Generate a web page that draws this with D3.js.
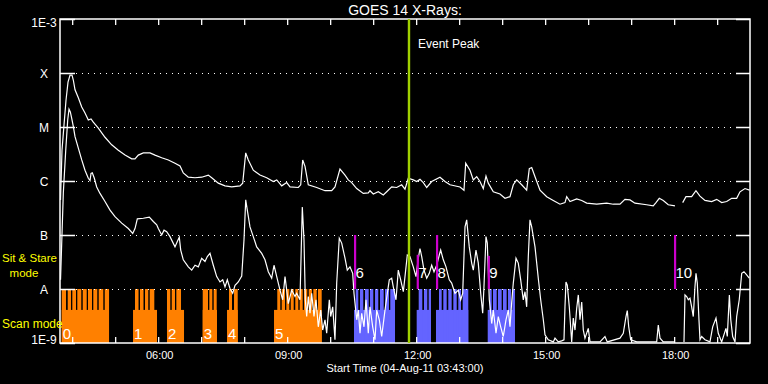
<!DOCTYPE html>
<html>
<head>
<meta charset="utf-8">
<script src="https://cdn.jsdelivr.net/npm/d3@7"></script>
<style>
  html, body { margin: 0; padding: 0; background: #000; }
  svg { display: block; }
  text { font-family: "Liberation Sans", Arial, sans-serif; fill: #fff; }
</style>
</head>
<body>
<div id="graph"></div>
<script>
// time axis: UT hours on 04-Aug-2011
var startHour = 3 + 43 / 60, endHour = 19.764;
var levelValues = [1e-3, 1e-4, 1e-5, 1e-6, 1e-7, 1e-8, 1e-9];
var levelLabels = ["1E-3", "X", "M", "C", "B", "A", "1E-9"];
var gridLevels = [1e-4, 1e-5, 1e-6, 1e-7, 1e-8];
var labelHours = [6, 9, 12, 15, 18];

// GOES 14 long (1-8 A) and short (0.5-4 A) channels: [UT hour, log10 flux]
var longChannel = [[3.729,-6.35],[3.763,-5.43],[3.810,-4.96],[3.857,-4.50],[3.903,-4.17],[3.950,-4.04],[3.996,-4.04],[4.026,-4.13],[4.066,-4.31],[4.143,-4.46],[4.222,-4.63],[4.298,-4.74],[4.375,-4.87],[4.438,-4.85],[4.491,-4.91],[4.608,-5.02],[4.763,-5.19],[4.919,-5.33],[5.073,-5.43],[5.229,-5.52],[5.384,-5.59],[5.461,-5.59],[5.538,-5.52],[5.654,-5.48],[5.810,-5.48],[5.926,-5.52],[6.082,-5.57],[6.236,-5.61],[6.391,-5.67],[6.508,-5.72],[6.584,-5.85],[6.701,-5.93],[6.857,-5.94],[7.012,-5.93],[7.166,-5.89],[7.245,-5.94],[7.398,-6.04],[7.554,-6.09],[7.710,-6.11],[7.903,-6.09],[7.966,-6.04],[8.036,-5.48],[8.096,-5.61],[8.212,-5.80],[8.368,-5.89],[8.524,-5.94],[8.677,-6.01],[8.757,-5.98],[8.873,-6.09],[8.989,-6.03],[9.066,-6.11],[9.259,-6.12],[9.315,-6.07],[9.361,-5.61],[9.415,-5.73],[9.491,-6.07],[9.687,-6.12],[9.880,-6.18],[10.036,-6.18],[10.112,-6.11],[10.228,-5.78],[10.345,-5.89],[10.421,-5.98],[10.501,-6.03],[10.617,-6.14],[10.770,-6.23],[10.887,-6.22],[10.926,-6.18],[11.003,-6.24],[11.119,-6.20],[11.236,-6.26],[11.315,-6.20],[11.431,-6.11],[11.547,-6.12],[11.663,-6.07],[11.740,-6.15],[11.817,-5.95],[11.933,-5.98],[12.012,-6.01],[12.089,-5.97],[12.166,-6.03],[12.245,-6.12],[12.361,-6.01],[12.554,-5.93],[12.670,-6.01],[12.787,-6.07],[13.019,-6.11],[13.112,-6.17],[13.152,-5.67],[13.252,-5.80],[13.329,-5.98],[13.408,-5.92],[13.484,-6.01],[13.561,-6.14],[13.624,-5.91],[13.677,-6.04],[13.794,-6.20],[13.949,-6.24],[14.066,-6.32],[14.182,-6.29],[14.259,-6.07],[14.338,-5.98],[14.454,-6.07],[14.570,-6.17],[14.631,-5.77],[14.687,-5.75],[14.764,-5.92],[14.880,-6.17],[15.036,-6.29],[15.189,-6.36],[15.345,-6.43],[15.461,-6.40],[15.501,-6.29],[15.578,-6.38],[15.733,-6.33],[15.850,-6.36],[15.966,-6.41],[16.198,-6.43],[16.431,-6.41],[16.584,-6.43],[16.740,-6.43],[16.856,-6.34],[16.973,-6.35],[17.089,-6.41],[17.361,-6.44],[17.514,-6.46],[17.577,-6.40],[17.654,-6.32],[17.747,-6.36],[17.863,-6.44],[18.019,-6.46],[18.1,null],[18.198,-6.40],[18.275,-6.29],[18.407,-6.29],[18.507,-6.18],[18.600,-6.28],[18.717,-6.36],[18.872,-6.38],[18.989,-6.34],[19.105,-6.40],[19.222,-6.38],[19.338,-6.32],[19.454,-6.32],[19.531,-6.20],[19.647,-6.14],[19.752,-6.17]];

var shortChannel = [[3.729,-7.83],[3.794,-6.22],[3.850,-5.43],[3.896,-4.87],[3.926,-4.67],[3.957,-4.72],[3.989,-4.84],[4.026,-4.99],[4.066,-5.18],[4.143,-5.39],[4.222,-5.61],[4.298,-5.80],[4.375,-5.95],[4.415,-5.99],[4.438,-5.86],[4.468,-5.85],[4.515,-5.95],[4.570,-6.11],[4.647,-6.23],[4.763,-6.38],[4.880,-6.54],[4.996,-6.66],[5.152,-6.78],[5.305,-6.88],[5.408,-6.97],[5.461,-6.88],[5.515,-6.70],[5.654,-6.69],[5.794,-6.67],[5.887,-6.75],[5.966,-6.81],[6.003,-6.88],[6.082,-7.00],[6.136,-6.91],[6.198,-6.94],[6.275,-7.03],[6.391,-7.22],[6.445,-7.12],[6.491,-7.04],[6.524,-7.28],[6.584,-7.46],[6.701,-7.59],[6.780,-7.65],[6.857,-7.56],[6.933,-7.59],[7.012,-7.43],[7.089,-7.49],[7.143,-7.40],[7.205,-7.34],[7.282,-7.56],[7.361,-7.77],[7.438,-7.87],[7.501,-7.83],[7.554,-7.96],[7.608,-7.83],[7.670,-7.99],[7.733,-8.08],[7.787,-7.93],[7.863,-7.87],[7.943,-7.76],[7.996,-7.09],[8.036,-6.35],[8.073,-6.54],[8.135,-6.85],[8.212,-7.03],[8.291,-7.22],[8.408,-7.34],[8.484,-7.46],[8.561,-7.68],[8.640,-7.80],[8.694,-7.56],[8.757,-7.77],[8.833,-8.02],[8.896,-8.20],[8.950,-7.77],[8.989,-8.02],[9.026,-8.27],[9.105,-8.02],[9.182,-8.14],[9.221,-8.08],[9.298,-8.20],[9.352,-6.48],[9.391,-7.09],[9.422,-8.20],[9.454,-8.51],[9.491,-8.14],[9.531,-8.45],[9.570,-8.08],[9.624,-8.51],[9.670,-8.20],[9.724,-8.70],[9.780,-8.39],[9.826,-8.76],[9.880,-8.57],[9.919,-8.82],[9.980,-8.20],[10.012,-8.51],[10.059,-8.33],[10.112,-8.94],[10.152,-7.89],[10.212,-7.06],[10.268,-7.15],[10.345,-7.43],[10.398,-7.65],[10.461,-7.59],[10.524,-7.71],[10.554,-8.08],[10.617,-8.57],[10.654,-8.39],[10.694,-8.82],[10.733,-8.45],[10.787,-8.70],[10.833,-8.20],[10.887,-8.82],[10.926,-8.33],[10.989,-8.70],[11.043,-8.94],[11.082,-8.39],[11.143,-8.57],[11.198,-8.88],[11.275,-8.39],[11.329,-8.08],[11.375,-7.83],[11.431,-7.80],[11.468,-7.96],[11.531,-8.20],[11.584,-7.65],[11.640,-7.83],[11.701,-8.05],[11.740,-7.77],[11.794,-7.37],[11.856,-7.40],[11.933,-7.59],[11.996,-7.77],[12.050,-7.43],[12.089,-7.25],[12.129,-7.40],[12.182,-7.65],[12.245,-7.80],[12.305,-7.71],[12.361,-7.56],[12.415,-7.68],[12.477,-7.56],[12.538,-7.37],[12.570,-7.28],[12.631,-7.46],[12.694,-7.59],[12.770,-7.83],[12.826,-7.89],[12.903,-8.08],[12.980,-8.02],[13.036,-8.20],[13.082,-8.08],[13.136,-6.85],[13.175,-6.72],[13.235,-7.22],[13.291,-7.52],[13.329,-7.65],[13.391,-7.28],[13.445,-7.52],[13.501,-8.08],[13.547,-8.45],[13.577,-7.96],[13.624,-7.03],[13.654,-7.15],[13.701,-8.20],[13.757,-8.64],[13.794,-8.39],[13.857,-8.82],[13.910,-8.51],[13.966,-8.70],[14.026,-8.88],[14.089,-8.57],[14.143,-8.39],[14.182,-8.70],[14.222,-8.24],[14.259,-7.89],[14.322,-7.43],[14.375,-7.52],[14.431,-7.83],[14.491,-8.20],[14.531,-8.05],[14.570,-8.33],[14.608,-7.40],[14.647,-6.72],[14.687,-6.85],[14.764,-7.22],[14.840,-7.80],[14.896,-8.20],[14.957,-8.57],[14.996,-8.85],[15.073,-8.94],[15.189,-8.98],[15.229,-8.91],[15.305,-8.98],[15.384,-8.96],[15.438,-8.94],[15.461,-8.33],[15.484,-7.87],[15.515,-7.93],[15.561,-8.33],[15.617,-8.98],[15.654,-8.54],[15.694,-8.76],[15.733,-8.36],[15.771,-8.11],[15.810,-8.57],[15.850,-8.24],[15.887,-8.76],[15.926,-8.91],[16.003,-8.73],[16.043,-8.98],[16.275,-8.98],[16.391,-8.88],[16.445,-8.98],[16.740,-8.91],[16.817,-8.82],[16.880,-8.51],[16.910,-8.40],[16.943,-8.70],[16.989,-8.94],[17.129,-8.98],[17.594,-8.98],[17.631,-8.67],[17.671,-8.91],[17.747,-8.98],[17.996,-8.98],[18.1,null],[18.229,-8.98],[18.252,-8.11],[18.291,-8.14],[18.329,-8.20],[18.368,-8.17],[18.407,-8.33],[18.445,-8.51],[18.484,-7.96],[18.508,-7.71],[18.538,-7.89],[18.577,-8.57],[18.601,-8.94],[18.640,-8.88],[18.717,-8.94],[18.833,-8.98],[18.896,-8.70],[18.973,-8.54],[19.026,-8.82],[19.105,-8.98],[19.205,-8.73],[19.236,-8.88],[19.284,-8.11],[19.317,-8.57],[19.361,-8.88],[19.415,-8.98],[19.454,-8.51],[19.514,-8.20],[19.571,-7.71],[19.624,-7.68],[19.687,-7.74],[19.747,-7.80]];

// scan-mode rasters (numbered), each a block plus its individual pointings
var scanLabels = ["0", "1", "2", "3", "4", "5", "6", "7", "8", "9"];
var scanStart = [3.757, 5.415, 6.205, 7.036, 7.601, 8.694, 10.554, 12.012, 12.461, 13.664];
var scanEnd = [4.857, 5.973, 6.601, 7.368, 7.850, 9.803, 11.508, 12.345, 13.212, 14.298];
var scanBeforePeak = [true, true, true, true, true, true, false, false, false, false];
var scanPointings = [
  [[3.757,3.857],[3.896,3.973],[4.003,4.089],[4.119,4.212],[4.245,4.338],[4.368,4.461],[4.491,4.584],[4.617,4.724],[4.757,4.857]],
  [[5.461,5.543],[5.577,5.659],[5.694,5.770],[5.803,5.910]],
  [[6.205,6.282],[6.315,6.391],[6.422,6.531]],
  [[7.036,7.159],[7.189,7.259],[7.291,7.361]],
  [[7.647,7.717],[7.764,7.850]],
  [[8.770,8.840],[8.873,8.950],[8.980,9.050],[9.082,9.152],[9.189,9.259],[9.291,9.361],[9.391,9.468],[9.501,9.577],[9.608,9.687],[9.717,9.803]],
  [[10.594,10.654],[10.694,10.770],[10.810,10.896],[10.926,11.003],[11.043,11.119],[11.159,11.245],[11.275,11.368],[11.398,11.508]],
  [[12.059,12.143],[12.182,12.259],[12.291,12.345]],
  [[12.531,12.594],[12.631,12.710],[12.747,12.826],[12.864,12.943],[12.980,13.043],[13.082,13.212]],
  [[13.710,13.757],[13.787,13.873],[13.903,13.989],[14.019,14.105],[14.136,14.205],[14.236,14.298]]
];
var scanBase = 4.1e-9, scanTop = 1e-8;

// sit & stare pointings
var stareLabels = ["6", "7", "8", "9", "10"];
var stareHours = [10.554, 12.012, 12.461, 13.664, 17.996];
var stareTop = [1e-7, 4.3e-8, 1e-7, 4.1e-8, 1e-7];

var peakHour = 11.833;

function toDate(h) { return new Date(Date.UTC(2011, 7, 4) + h * 3600000); }

var margin = {top: 19, right: 18, bottom: 41, left: 60},
    width = 768 - margin.left - margin.right,
    height = 384 - margin.top - margin.bottom;

var svgRoot = d3.select("#graph").append("svg")
    .attr("width", 768).attr("height", 384)
    .style("background", "#000");
var svg = svgRoot.append("g")
    .attr("transform", "translate(" + margin.left + "," + margin.top + ")");

var x = d3.scaleUtc().domain([toDate(startHour), toDate(endHour)]).range([0, width]);
var y = d3.scaleLog().domain([1e-9, 1e-3]).range([height, 0]);

// scan blocks
scanLabels.forEach(function(lab, i) {
  var col = scanBeforePeak[i] ? "#ff8000" : "#6464ff";
  svg.append("rect")
    .attr("x", x(toDate(scanStart[i])))
    .attr("y", y(scanBase))
    .attr("width", x(toDate(scanEnd[i])) - x(toDate(scanStart[i])))
    .attr("height", height - y(scanBase))
    .attr("fill", col);
  svg.selectAll(null)
    .data(scanPointings[i])
    .enter().append("rect")
      .attr("x", function(d) { return x(toDate(d[0])); })
      .attr("y", y(scanTop))
      .attr("width", function(d) { return x(toDate(d[1])) - x(toDate(d[0])); })
      .attr("height", height - y(scanTop))
      .attr("fill", col);
});

// dotted level lines
svg.selectAll(".grid")
  .data(gridLevels)
  .enter().append("line")
    .attr("x1", 16).attr("x2", width - 14)
    .attr("y1", function(d) { return Math.round(y(d)) + 0.5; })
    .attr("y2", function(d) { return Math.round(y(d)) + 0.5; })
    .attr("stroke", "#fff")
    .attr("stroke-width", 1)
    .attr("stroke-dasharray", "1,5");

// level ticks on both sides
levelValues.forEach(function(v) {
  var yy = Math.round(y(v)) + 0.5;
  svg.append("line").attr("x1", 0).attr("x2", 15).attr("y1", yy).attr("y2", yy)
    .attr("stroke", "#fff").attr("stroke-width", 1.5);
  svg.append("line").attr("x1", width - 14).attr("x2", width).attr("y1", yy).attr("y2", yy)
    .attr("stroke", "#fff").attr("stroke-width", 1.5);
});

// level labels
svg.selectAll(".lvl")
  .data(levelValues)
  .enter().append("text")
    .attr("x", -16)
    .attr("y", function(d, i) {
      if (i === 0) return y(d) + 8;
      if (i === levelValues.length - 1) return y(d) + 1;
      return y(d) + 4.5;
    })
    .attr("text-anchor", "middle")
    .style("font-size", "12px")
    .text(function(d, i) { return levelLabels[i]; });

// time axes
var xAxisBottom = d3.axisBottom(x)
  .ticks(d3.utcHour.every(1))
  .tickSizeInner(-6).tickSizeOuter(0).tickPadding(8)
  .tickFormat(function(d) {
    return labelHours.indexOf(d.getUTCHours()) >= 0 ? d3.utcFormat("%H:%M")(d) : "";
  });
var gb = svg.append("g").attr("transform", "translate(0," + height + ")").call(xAxisBottom);
var gt = svg.append("g").call(d3.axisTop(x).ticks(d3.utcHour.every(1)).tickSizeInner(-6).tickSizeOuter(0).tickFormat(""));
[gb, gt].forEach(function(g) {
  g.select(".domain").remove();
  g.selectAll("line").attr("stroke", "#fff").attr("stroke-width", 1.3);
  g.selectAll("text").attr("fill", "#fff").style("font-size", "11px")
    .style("font-family", "'Liberation Sans', Arial, sans-serif").attr("dx", "1");
});

// frame
svg.append("rect")
  .attr("x", 0).attr("y", 0).attr("width", width).attr("height", height)
  .attr("fill", "none").attr("stroke", "#fff").attr("stroke-width", 1.5);

// flux curves
var line = d3.line()
  .defined(function(d) { return d[1] !== null; })
  .x(function(d) { return x(toDate(d[0])); })
  .y(function(d) { return y(Math.pow(10, d[1])); });
[longChannel, shortChannel].forEach(function(series) {
  svg.append("path")
    .datum(series)
    .attr("fill", "none")
    .attr("stroke", "#fff")
    .attr("stroke-width", 1.2)
    .attr("d", line);
});

// sit & stare markers
stareLabels.forEach(function(lab, i) {
  var xx = x(toDate(stareHours[i]));
  svg.append("rect")
    .attr("x", xx).attr("y", y(stareTop[i]))
    .attr("width", 2.2).attr("height", y(1e-8) - y(stareTop[i]))
    .attr("fill", "#cc00cc");
  svg.append("text")
    .attr("x", xx + 1.5).attr("y", y(1e-8) - 11)
    .style("font-size", "15px")
    .text(lab);
});

// scan labels
scanLabels.slice(0, 6).forEach(function(lab, i) {
  svg.append("text")
    .attr("x", x(toDate(scanStart[i])) + 1).attr("y", height - 4)
    .style("font-size", "15px")
    .text(lab);
});

// event peak
var xp = x(toDate(peakHour));
svg.append("line")
  .attr("x1", xp).attr("x2", xp).attr("y1", 0).attr("y2", height)
  .attr("stroke", "#a0d000").attr("stroke-width", 2.4);
svg.append("text")
  .attr("x", xp + 9).attr("y", 29)
  .style("font-size", "12px")
  .text("Event Peak");

// titles
svgRoot.append("text")
  .attr("x", margin.left + width / 2).attr("y", 15)
  .attr("text-anchor", "middle")
  .style("font-size", "14px")
  .text("GOES 14 X-Rays:");
svgRoot.append("text")
  .attr("x", margin.left + width / 2).attr("y", 372)
  .attr("text-anchor", "middle")
  .style("font-size", "11px")
  .text("Start Time (04-Aug-11 03:43:00)");

// mode labels
svgRoot.append("text").attr("x", 2).attr("y", 262)
  .style("font-size", "11.5px").style("fill", "#ffff00").text("Sit & Stare");
svgRoot.append("text").attr("x", 24).attr("y", 277).attr("text-anchor", "middle")
  .style("font-size", "11.5px").style("fill", "#ffff00").text("mode");
svgRoot.append("text").attr("x", 2).attr("y", 328)
  .style("font-size", "12px").style("fill", "#ffff00").text("Scan mode");
</script>
</body>
</html>
